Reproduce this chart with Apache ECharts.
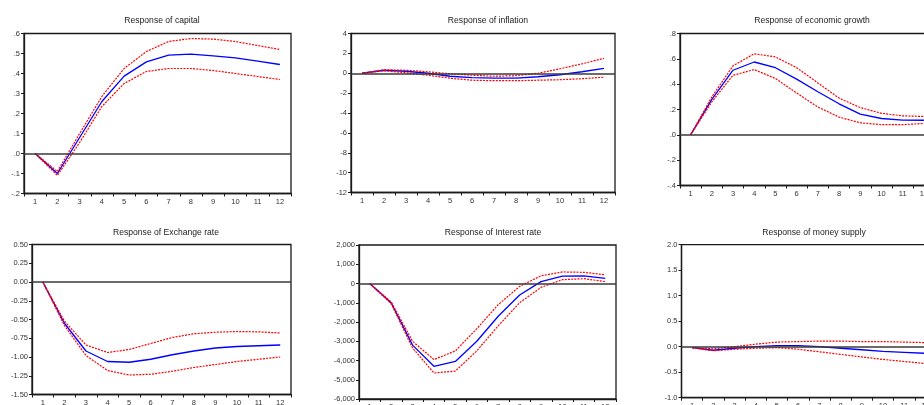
<!DOCTYPE html>
<html>
<head>
<meta charset="utf-8">
<script src="https://cdn.jsdelivr.net/npm/echarts@6/dist/echarts.min.js"></script>
<style>
  html, body { margin: 0; padding: 0; background: #fff; overflow: hidden; }
  #irf { width: 924px; height: 405px; }
</style>
</head>
<body>
<div id="irf"></div>
<script>
// periods
const periods = ['1', '2', '3', '4', '5', '6', '7', '8', '9', '10', '11', '12']

// Response of capital
const capitalMid = [0, -0.10, 0.08, 0.26, 0.387, 0.458, 0.492, 0.497, 0.488, 0.478, 0.462, 0.445]
const capitalUp = [0, -0.09, 0.10, 0.285, 0.425, 0.51, 0.56, 0.575, 0.572, 0.56, 0.54, 0.52]
const capitalLow = [0, -0.11, 0.055, 0.235, 0.35, 0.41, 0.425, 0.425, 0.415, 0.40, 0.385, 0.37]

// Response of inflation
const inflationMid = [0, 0.3, 0.2, 0.0, -0.3, -0.45, -0.5, -0.5, -0.35, -0.15, 0.15, 0.5]
const inflationUp = [0, 0.35, 0.3, 0.15, -0.05, -0.2, -0.3, -0.25, 0.0, 0.45, 0.95, 1.5]
const inflationLow = [0, 0.25, 0.05, -0.2, -0.5, -0.7, -0.75, -0.75, -0.7, -0.65, -0.55, -0.4]

// Response of economic growth
const growthMid = [0, 0.28, 0.51, 0.575, 0.53, 0.44, 0.34, 0.245, 0.163, 0.129, 0.116, 0.115]
const growthUp = [0, 0.30, 0.545, 0.64, 0.615, 0.53, 0.41, 0.29, 0.215, 0.17, 0.15, 0.145]
const growthLow = [0, 0.26, 0.47, 0.515, 0.445, 0.33, 0.22, 0.14, 0.095, 0.08, 0.08, 0.09]

// Response of Exchange rate
const exchangeMid = [0, -0.55, -0.92, -1.06, -1.07, -1.03, -0.97, -0.92, -0.88, -0.86, -0.85, -0.84]
const exchangeUp = [0, -0.52, -0.84, -0.94, -0.90, -0.82, -0.74, -0.69, -0.67, -0.66, -0.665, -0.68]
const exchangeLow = [0, -0.58, -0.98, -1.18, -1.24, -1.23, -1.19, -1.14, -1.10, -1.06, -1.03, -1.00]

// Response of Interest rate
const interestMid = [0, -1000, -3200, -4300, -4050, -3000, -1700, -600, 100, 380, 400, 270]
const interestUp = [0, -950, -3000, -3950, -3500, -2350, -1100, -150, 400, 600, 580, 450]
const interestLow = [0, -1050, -3350, -4650, -4550, -3500, -2200, -1000, -200, 200, 250, 100]

// Response of money supply
const moneyMid = [-0.02, -0.07, -0.03, 0.0, 0.02, 0.02, 0.0, -0.03, -0.06, -0.09, -0.11, -0.13]
const moneyUp = [-0.02, -0.04, 0.0, 0.05, 0.09, 0.10, 0.11, 0.11, 0.10, 0.10, 0.09, 0.08]
const moneyLow = [-0.02, -0.08, -0.05, -0.03, -0.02, -0.05, -0.10, -0.15, -0.20, -0.25, -0.29, -0.33]

const titles = ['Response of capital', 'Response of inflation', 'Response of economic growth',
  'Response of Exchange rate', 'Response of Interest rate', 'Response of money supply']

const font = '"Liberation Sans", Arial, sans-serif'

// eviews style ".6" / "-.2"
function dotFmt(v) {
  const a = Math.round(Math.abs(v) * 10)
  return (v < -1e-9 ? '-' : '') + '.' + a
}
function thouFmt(v) {
  const s = Math.abs(Math.round(v)).toString().replace(/\B(?=(\d{3})+(?!\d))/g, ',')
  return (v < 0 ? '-' : '') + s
}

const panels = [
  { grid: { left: 24, top: 33.5, width: 267, height: 160 }, title: [157, 11], y: [-0.2, 0.6, 0.1], fmt: dotFmt, data: [capitalMid, capitalUp, capitalLow] },
  { grid: { left: 351, top: 33.5, width: 264, height: 159 }, title: [483, 11], y: [-12, 4, 2], fmt: v => String(v), data: [inflationMid, inflationUp, inflationLow] },
  { grid: { left: 680, top: 33.5, width: 254.5, height: 152 }, title: [807, 11], y: [-0.4, 0.8, 0.2], fmt: dotFmt, data: [growthMid, growthUp, growthLow] },
  { grid: { left: 32, top: 244.5, width: 259, height: 150 }, title: [161, 223.5], y: [-1.5, 0.5, 0.25], fmt: v => v.toFixed(2), data: [exchangeMid, exchangeUp, exchangeLow] },
  { grid: { left: 359, top: 245, width: 257, height: 154 }, title: [488, 223.5], y: [-6000, 2000, 1000], fmt: thouFmt, data: [interestMid, interestUp, interestLow] },
  { grid: { left: 681.5, top: 244.7, width: 254.5, height: 153 }, title: [809, 223.5], y: [-1, 2, 0.5], fmt: v => v.toFixed(1), data: [moneyMid, moneyUp, moneyLow] }
]

const grid = []
const xAxis = []
const yAxis = []
const series = []
const title = []

panels.forEach((p, i) => {
  grid.push(Object.assign({
    show: true,
    borderColor: '#1a1a1a',
    borderWidth: 1.3,
    outerBoundsMode: 'none', // v6: 不要自动收缩到容器内
    containLabel: false
  }, p.grid))
  title.push({
    text: titles[i],
    left: p.title[0],
    top: p.title[1],
    textAlign: 'center',
    textStyle: { fontFamily: font, fontSize: 8.6, fontWeight: 'normal', color: '#222' }
  })
  xAxis.push({
    type: 'category',
    gridIndex: i,
    data: periods,
    boundaryGap: true,
    axisLine: { show: true, onZero: false, lineStyle: { color: '#1a1a1a', width: 1.3 } },
    axisTick: { show: true, length: 3, lineStyle: { color: '#1a1a1a' } },
    axisLabel: { margin: 4, fontFamily: font, fontSize: 7.5, color: '#333', interval: 0 },
    splitLine: { show: false }
  })
  yAxis.push({
    type: 'value',
    gridIndex: i,
    min: p.y[0],
    max: p.y[1],
    interval: p.y[2],
    axisLine: { show: true, onZero: false, lineStyle: { color: '#1a1a1a', width: 1.3 } },
    axisTick: { show: true, length: 3, lineStyle: { color: '#1a1a1a' } },
    axisLabel: { margin: 4, fontFamily: font, fontSize: 7.5, color: '#333', formatter: p.fmt },
    splitLine: { show: false }
  })
  // 冲击响应 + 上下置信带
  p.data.forEach((vals, k) => {
    const s = {
      type: 'line',
      xAxisIndex: i,
      yAxisIndex: i,
      data: vals,
      symbol: 'none',
      silent: true,
      animation: false,
      z: k === 0 ? 3 : 4,
      lineStyle: k === 0
        ? { color: '#0000ff', width: 1.3 }
        : { color: '#ff0000', width: 1.2, type: [2, 1.2] }
    }
    if (k === 0) {
      // 零线
      s.markLine = {
        silent: true,
        symbol: 'none',
        animation: false,
        label: { show: false },
        lineStyle: { color: '#3a3a3a', width: 1.5, type: 'solid' },
        data: [{ yAxis: 0 }]
      }
    }
    series.push(s)
  })
})

const myChart = echarts.init(document.getElementById('irf'), null, { renderer: 'canvas' })
myChart.setOption({
  animation: false,
  backgroundColor: '#fff',
  title: title,
  grid: grid,
  xAxis: xAxis,
  yAxis: yAxis,
  series: series
})
</script>
</body>
</html>
